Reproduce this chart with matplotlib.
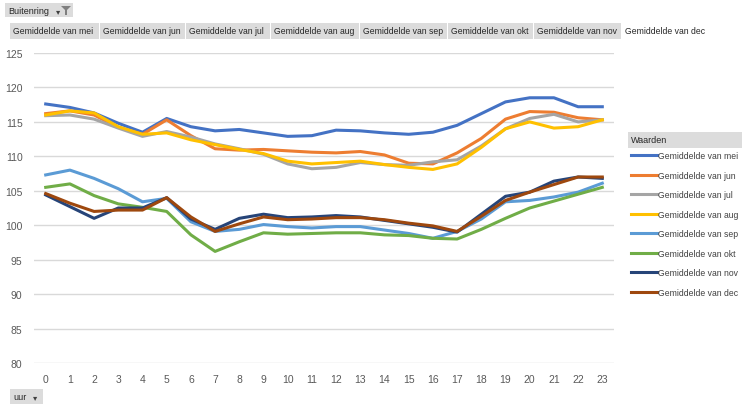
import matplotlib
matplotlib.use("Agg")
import matplotlib.pyplot as plt
from matplotlib.patches import Rectangle, Polygon
import numpy as np

plt.rcParams['font.family'] = ['Liberation Sans', 'DejaVu Sans']

# uren op de x-as
hours = list(range(24))

# gemiddelden per maand
mei = [117.6, 117.1, 116.3, 114.8, 113.5, 115.5, 114.3, 113.7, 113.9, 113.4, 112.9, 113.0,
       113.8, 113.7, 113.4, 113.2, 113.5, 114.5, 116.2, 117.9, 118.5, 118.5, 117.2, 117.2]
jun = [116.2, 116.6, 116.0, 114.2, 113.2, 115.3, 113.0, 111.1, 110.9, 111.0, 110.8, 110.6,
       110.5, 110.7, 110.2, 109.0, 108.9, 110.5, 112.6, 115.4, 116.5, 116.4, 115.6, 115.3]
jul = [115.9, 116.0, 115.4, 114.1, 112.9, 113.6, 112.8, 111.8, 111.1, 110.3, 108.9, 108.2,
       108.4, 109.1, 108.8, 108.7, 109.2, 109.5, 111.5, 114.0, 115.5, 116.1, 115.0, 115.3]
aug = [116.0, 116.6, 116.3, 114.3, 113.2, 113.4, 112.4, 111.7, 111.0, 110.4, 109.3, 108.9,
       109.1, 109.3, 108.8, 108.4, 108.1, 108.9, 111.3, 114.0, 115.0, 114.1, 114.3, 115.3]
sep = [107.3, 108.0, 106.8, 105.3, 103.4, 103.9, 100.5, 99.1, 99.4, 100.1, 99.8, 99.6,
       99.8, 99.8, 99.3, 98.8, 98.1, 99.1, 100.9, 103.4, 103.6, 104.1, 104.8, 106.1]
okt = [105.5, 106.0, 104.3, 103.1, 102.6, 102.0, 98.6, 96.2, 97.6, 98.9, 98.7, 98.8,
       98.9, 98.9, 98.6, 98.5, 98.1, 98.0, 99.4, 101.0, 102.5, 103.5, 104.5, 105.5]
nov = [104.4, 102.7, 101.0, 102.5, 102.5, 104.0, 100.9, 99.4, 101.0, 101.6, 101.1, 101.2,
       101.4, 101.2, 100.7, 100.2, 99.7, 99.0, 101.6, 104.2, 104.8, 106.4, 107.0, 106.8]
dec = [104.6, 103.2, 102.0, 102.2, 102.2, 104.0, 101.2, 99.1, 100.2, 101.2, 100.8, 100.9,
       101.1, 101.1, 100.8, 100.3, 99.9, 99.1, 101.3, 103.6, 104.8, 105.9, 107.0, 107.0]

months = ['mei', 'jun', 'jul', 'aug', 'sep', 'okt', 'nov', 'dec']
series = [mei, jun, jul, aug, sep, okt, nov, dec]
colors = ['#4472C4', '#ED7D31', '#A5A5A5', '#FFC000', '#5B9BD5', '#70AD47', '#264478', '#9E480E']

W, H = 742, 410
fig = plt.figure(figsize=(W / 100, H / 100), dpi=100)


def fx(px):
    return px / W


def fy(py):
    return 1 - py / H


ax = fig.add_axes([fx(33.6), fy(364), fx(614.4) - fx(33.6), fy(54) - fy(364)])

lines = []
for m, vals, c in zip(months, series, colors):
    ln, = ax.plot(hours, vals, color=c, linewidth=2.2, label='Gemiddelde van ' + m,
                  solid_joinstyle='round')
    lines.append(ln)

ax.set_xlim(-0.5, 23.5)
ax.set_ylim(80, 125)
ax.set_xticks(hours)
ax.set_yticks(range(80, 126, 5))
ax.grid(axis='y', color='#d9d9d9', linewidth=1)
ax.set_axisbelow(True)
for s in ax.spines.values():
    s.set_visible(False)
ax.tick_params(length=0, labelsize=7.5, colors='#595959', pad=8)
ax.tick_params(axis='y', pad=8)


def button(x0, y0, x1, y1, text, fill='#dcdcdc', size=6.2):
    if fill:
        fig.patches.append(Rectangle((fx(x0), fy(y1)), fx(x1) - fx(x0), fy(y0) - fy(y1),
                                     transform=fig.transFigure, facecolor=fill,
                                     edgecolor='none', zorder=0))
    fig.text(fx(x0 + 3), fy((y0 + y1) / 2), text, fontsize=size, color='#262626',
             va='center', ha='left')


# filterknop bovenaan
button(5, 4, 73, 18, 'Buitenring', size=6.5)
fig.text(fx(58), fy(12), '\u25be', fontsize=6, color='#404040', ha='center', va='center',
         family='DejaVu Sans')
fig.patches.append(Polygon([(fx(61), fy(7)), (fx(71), fy(7)), (fx(67), fy(11)),
                            (fx(67), fy(16)), (fx(65), fy(16)), (fx(65), fy(11))],
                           closed=True, transform=fig.transFigure,
                           facecolor='#7f7f7f', edgecolor='none'))

# kolomknoppen
edges = [10, 100, 186, 271, 360, 448, 534, 622, 712]
for i, m in enumerate(months):
    fill = '#dcdcdc' if i < 7 else None
    button(edges[i], 24, edges[i + 1] - 1, 40, 'Gemiddelde van ' + m, fill=fill)

# legenda
button(628, 133, 742, 149, 'Waarden', size=6.5)
fig.legend(handles=lines, loc='upper left', bbox_to_anchor=(fx(627), fy(148)),
           frameon=False, fontsize=6.2, handlelength=3.0, handletextpad=0.1,
           labelspacing=1.22, borderaxespad=0, borderpad=0.5, labelcolor='#404040')

# uur-knop onderaan
button(10, 390, 43, 405, 'uur', size=6.5)
fig.text(fx(35), fy(397.5), '\u25be', fontsize=6, color='#404040', ha='center', va='center',
         family='DejaVu Sans')

fig.savefig('out.png', dpi=100)
